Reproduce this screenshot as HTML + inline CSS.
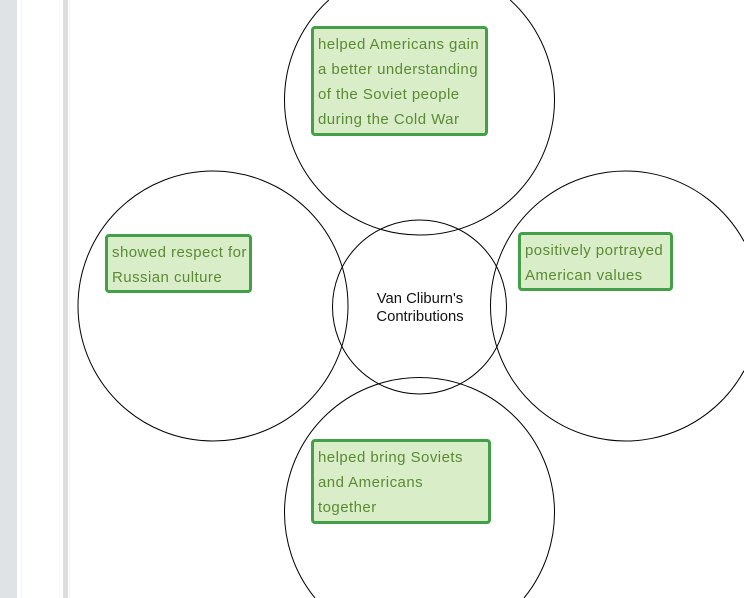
<!DOCTYPE html>
<html>
<head>
<meta charset="utf-8">
<style>
  html, body { margin:0; padding:0; width:744px; height:598px; overflow:hidden; }
  body { position:relative; background:#ffffff; font-family:"Liberation Sans", Arial, sans-serif; }
  .strip { position:absolute; top:0; height:598px; }
  .box { position:absolute; box-sizing:border-box; background:#d9edc9; border:3px solid #44a048; border-radius:4px; color:#5b8a34; font-size:15px; letter-spacing:0.45px; line-height:25px; padding:3px 0 0 4px; white-space:nowrap; overflow:hidden; }
  .center { position:absolute; left:355px; width:130px; top:290px; text-align:center; font-size:14.8px; line-height:18px; color:#111; }
</style>
</head>
<body>
  <div class="strip" style="left:0;width:17px;background:#dfe3e5;"></div>
  <div class="strip" style="left:21px;width:1px;background:#f3f3f3;"></div>
  <div class="strip" style="left:59px;width:1px;background:#f5f5f5;"></div>
  <div class="strip" style="left:63px;width:5px;background:#dedede;"></div>
  <div class="strip" style="left:69px;width:1px;background:#f3f3f3;"></div>

  <svg width="744" height="598" viewBox="0 0 744 598" style="position:absolute;left:0;top:0;overflow:hidden;" xmlns="http://www.w3.org/2000/svg">
    <g fill="none" stroke="#000" stroke-width="1">
      <path d="M328.81,0 A135,135 0 1 0 510.19,0"/>
      <circle cx="213" cy="306" r="135"/>
      <path d="M744,241.33 A135,135 0 1 0 744,370.67"/>
      <path d="M315.03,598 A135,135 0 1 1 523.97,598"/>
      <circle cx="419.5" cy="307" r="87"/>
    </g>
  </svg>

  <div class="box" style="left:311px;top:26px;width:177px;height:110px;">helped Americans gain<br>a better understanding<br>of the Soviet people<br>during the Cold War</div>
  <div class="box" style="left:105px;top:234px;width:147px;height:59px;">showed respect for<br>Russian culture</div>
  <div class="box" style="left:518px;top:232px;width:155px;height:59px;">positively portrayed<br>American values</div>
  <div class="box" style="left:311px;top:439px;width:180px;height:85px;">helped bring Soviets<br>and Americans<br>together</div>

  <div class="center">Van Cliburn's<br>Contributions</div>
</body>
</html>
